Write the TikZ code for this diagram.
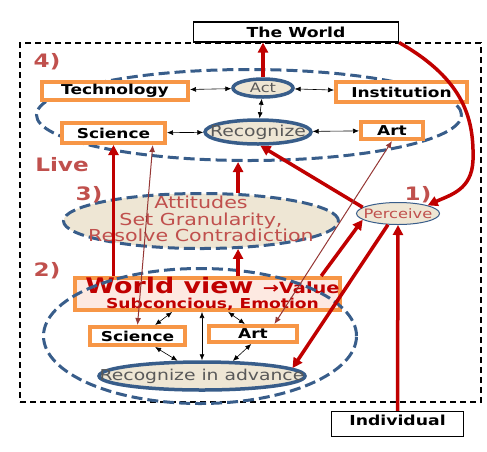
\documentclass[tikz,border=0pt]{standalone}
\usepackage{fontspec}
\setmainfont{DejaVu Sans}[FakeStretch=1.25]
\usetikzlibrary{shapes,arrows.meta,calc}
\definecolor{boxorange}{HTML}{F79646}
\definecolor{ringblue}{HTML}{385D8A}
\definecolor{arrowred}{HTML}{C00000}
\definecolor{labelred}{HTML}{C0504D}
\definecolor{thinbrown}{HTML}{953735}
\definecolor{beige}{HTML}{EEE6D4}
\definecolor{pinkfill}{HTML}{FDE9E1}

\begin{document}
\begin{tikzpicture}[x=1pt,y=-1pt,
			frame node/.style={
				rectangle, draw=black, line width=1.5pt,
				dash pattern=on 6pt off 4pt, inner sep=0pt},
			plain box/.style={
				rectangle, draw=black, line width=1.2pt, fill=white,
				inner sep=0pt, font=\fontsize{13.8}{14}\selectfont\bfseries},
			orange box/.style={
				rectangle, draw=boxorange, line width=4pt, fill=white,
				inner sep=0pt, font=\fontsize{13.6}{14}\selectfont\bfseries},
			ring/.style={
				ellipse, draw=ringblue, line width=3pt,
				dash pattern=on 11pt off 5pt, inner sep=0pt},
			core/.style={
				ellipse, draw=ringblue, line width=3.5pt, fill=beige, inner sep=0pt},
			core text/.style={text=black!65, font=\fontsize{15}{16}\selectfont},
			red text/.style={text=labelred, align=center},
			tag/.style={text=labelred, font=\fontsize{18.5}{19}\selectfont\bfseries},
			link/.style={{Latex[length=6pt,width=5pt]}-{Latex[length=6pt,width=5pt]},
				line width=0.6pt, black},
			brownlink/.style={{Latex[length=7pt,width=6pt]}-{Latex[length=7pt,width=6pt]},
				line width=1pt, thinbrown},
			redflow/.style={-{Triangle[length=10pt,width=10pt]},
				line width=3.5pt, arrowred}
			]
			\useasboundingbox (0,0) rectangle (487,451);
			\node[frame node,minimum width=461,minimum height=359] (frame) at (250.5,222.5) {};
			
			% the world and the individual
			\node[plain box,minimum width=205,minimum height=20] (world) at (296,32) {The World};
			\node[plain box,minimum width=132,minimum height=25,text depth=7pt] (individual) at (397.5,424) {Individual};
			
			% 4) live
			\node[ring,minimum width=425,minimum height=91] (live) at (249,115) {};
			\node[orange box,minimum width=146,minimum height=18] (technology) at (115,91) {Technology};
			\node[orange box,minimum width=131,minimum height=20] (institution) at (401.5,92) {Institution};
			\node[orange box,minimum width=103,minimum height=20] (sciencetop) at (113.5,133) {Science};
			\node[orange box,minimum width=62,minimum height=17] (arttop) at (392,130.5) {Art};
			\node[core,minimum width=60,minimum height=18,
				label={[core text,font=\fontsize{13}{13}\selectfont]center:Act}] (act) at (263,88) {};
			\node[core,minimum width=106,minimum height=24,
				label={[core text]center:Recognize}] (recognize) at (258,132) {};
			
			% 3) attitudes
			\node[ring,fill=beige,minimum width=275,minimum height=55,
				label={[red text,font=\fontsize{16.5}{16.5}\selectfont,yshift=2pt]center:Attitudes\\Set Granularity,\\Resolve Contradiction}]
				(attitudes) at (201,221) {};
			
			% 1) perceive
			\node[core,line width=1pt,minimum width=83,minimum height=22,
				label={[red text,font=\fontsize{13}{13}\selectfont]center:Perceive}] (perceive) at (398,213.5) {};
			
			% 2) world view
			\node[rectangle,draw=boxorange,line width=4pt,fill=pinkfill,inner sep=0pt,
				minimum width=265,minimum height=32,
				label={[text=arrowred,align=center,xshift=5pt]center:{\fontsize{21.5}{22}\selectfont\bfseries World view }{\fontsize{15.5}{16}\selectfont\bfseries →Value}\\[3.5pt]
				{\fontsize{13.7}{14}\selectfont\bfseries Subconcious, Emotion}}] (worldview) at (207.5,294) {};
			\node[ring,minimum width=313,minimum height=135] (lowring) at (200,336) {};
			\node[orange box,minimum width=95,minimum height=18] (sciencelow) at (137.5,336) {Science};
			\node[orange box,minimum width=88,minimum height=16] (artlow) at (253,334) {Art};
			\node[core,minimum width=206,minimum height=28,
				label={[core text]center:Recognize in advance}] (reca) at (202,376) {};
			
			\node[tag] (n4) at (47,62) {4)};
			\node[tag] (nlive) at (62,165) {Live};
			\node[tag] (n3) at (89,195) {3)};
			\node[tag] (n2) at (47,271) {2)};
			\node[tag] (n1) at (418,195) {1)};
			
			\path
			(technology) edge[link] (act)
			(act) edge[link] (institution)
			(act) edge[link] (recognize)
			(sciencetop) edge[link] (recognize)
			(recognize) edge[link] (arttop)
			(worldview.207) edge[link] (sciencelow.32)
			(worldview.319) edge[link] (artlow.129)
			(reca.north |- worldview.south) edge[link] (reca.north)
			(sciencelow.-32) edge[link] (reca.148)
			(artlow.-100) edge[link] (reca.26);
			
			\path
			(act.north) edge[redflow] (act.north |- world.south)
			(attitudes.37) edge[redflow] (attitudes.37 |- live.south)
			(attitudes.37 |- worldview.north) edge[redflow] (attitudes.-37)
			(sciencetop.south |- worldview.north) edge[redflow] (sciencetop.south)
			(worldview.9) edge[redflow] (perceive.190)
			(perceive.170) edge[redflow] (recognize.-80)
			(perceive.228) edge[redflow] (reca.5)
			(individual.north) edge[redflow] (perceive.south);
			\draw[redflow] (world.south east) .. controls (465,80) and (474,120) .. (473,160)
				.. controls (472,190) and (450,195) .. (perceive.north east);
			
			\path
			(sciencetop.-17) edge[brownlink] (sciencelow.north)
			(arttop.south) edge[brownlink] (artlow.25);
		\end{tikzpicture}
\end{document}
